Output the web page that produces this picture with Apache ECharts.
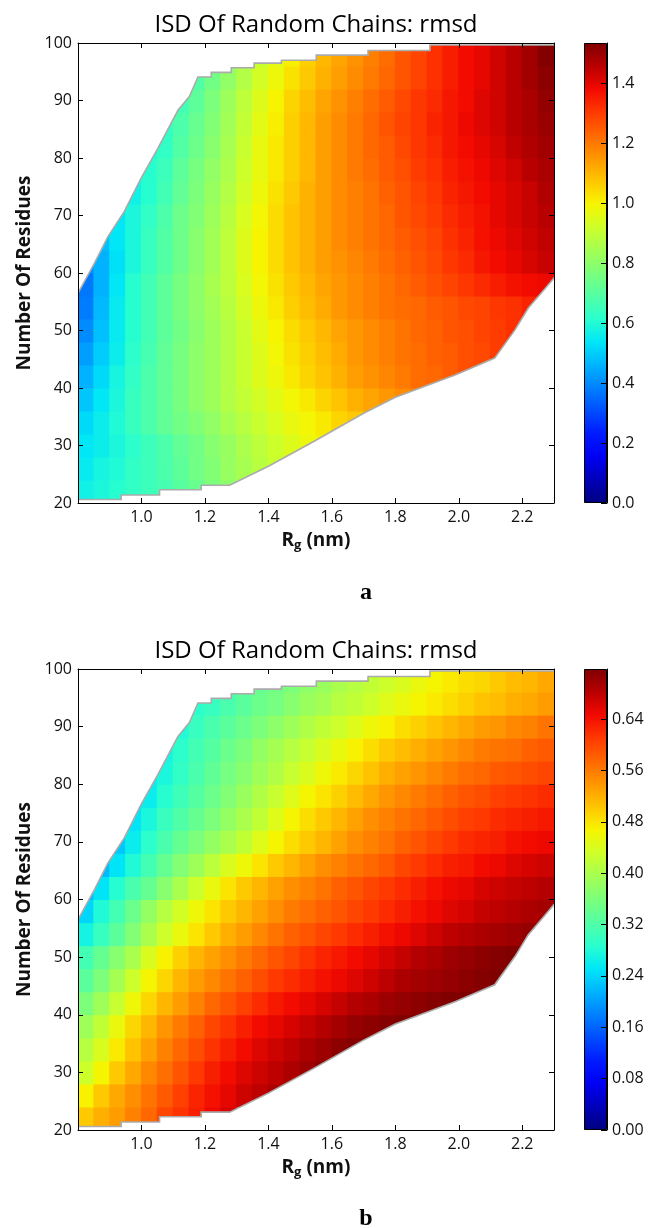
<!DOCTYPE html>
<html><head><meta charset="utf-8">
<script src="https://cdn.jsdelivr.net/npm/echarts@6/dist/echarts.min.js"></script>
<style>html,body{margin:0;padding:0;background:#fff}#c{width:652px;height:1228px}</style>
</head><body><div id="c"></div>
<script>
const TITLE = 'ISD Of Random Chains: rmsd';
const PANEL_LABELS = ['a', 'b'];
const Y_NAME = 'Number Of Residues';
// cell edges of the value grid
const RG_CELL_EDGES = [0.80,0.85,0.90,0.95,1.00,1.05,1.10,1.15,1.20,1.25,1.30,1.35,1.40,1.45,1.50,1.55,1.60,1.65,1.70,1.75,1.80,1.85,1.90,1.95,2.00,2.05,2.10,2.15,2.20,2.25,2.30];
const N_CELL_EDGES = [20,24,28,32,36,40,44,48,52,56,60,64,68,72,76,80,84,88,92,96,100];
// first column with a value, for each row (bottom to top)
const ROW_FIRST_COL = [0,0,0,0,0,0,0,0,0,0,0,1,2,3,3,4,5,6,7,9];
const VMAX_A = 1.536;
const VMAX_B = 0.718;
const CB_TICK_A = 0.2;
const CB_TICK_B = 0.08;
// panel a, rows from N=20 up
const RMSD_A = [
[0.57,0.59,0.61,0.63,0.65,0.67,0.70,0.73,0.77,0.80],
[0.55,0.58,0.60,0.63,0.65,0.68,0.71,0.75,0.78,0.82,0.85,0.88,0.91],
[0.54,0.56,0.59,0.62,0.65,0.68,0.72,0.75,0.79,0.82,0.86,0.89,0.92,0.95,0.98,1.01],
[0.52,0.56,0.60,0.64,0.68,0.72,0.75,0.78,0.81,0.85,0.88,0.91,0.94,0.97,0.99,1.02,1.05,1.07,1.09],
[0.49,0.54,0.59,0.64,0.68,0.72,0.76,0.80,0.83,0.87,0.90,0.93,0.96,0.99,1.02,1.05,1.08,1.11,1.13,1.15,1.17,1.19],
[0.46,0.52,0.58,0.63,0.68,0.72,0.76,0.80,0.83,0.87,0.91,0.95,0.98,1.02,1.05,1.08,1.11,1.14,1.16,1.18,1.20,1.22,1.23,1.25,1.27,1.28],
[0.43,0.50,0.56,0.62,0.67,0.72,0.76,0.80,0.83,0.87,0.91,0.95,0.99,1.03,1.06,1.09,1.12,1.15,1.17,1.19,1.21,1.22,1.24,1.25,1.27,1.28,1.30,1.31],
[0.40,0.48,0.55,0.61,0.66,0.71,0.75,0.79,0.83,0.87,0.91,0.96,1.00,1.04,1.07,1.10,1.13,1.15,1.17,1.19,1.21,1.23,1.24,1.26,1.27,1.29,1.30,1.32,1.33],
[0.38,0.47,0.55,0.61,0.66,0.71,0.76,0.80,0.84,0.88,0.93,0.98,1.02,1.06,1.09,1.12,1.15,1.17,1.19,1.21,1.22,1.23,1.25,1.26,1.28,1.29,1.31,1.32,1.34,1.35],
[0.37,0.46,0.54,0.61,0.66,0.71,0.76,0.80,0.85,0.89,0.94,0.99,1.03,1.07,1.10,1.13,1.15,1.17,1.19,1.21,1.23,1.25,1.27,1.29,1.31,1.33,1.35,1.37,1.38,1.39],
[0.40,0.46,0.53,0.59,0.64,0.69,0.74,0.79,0.84,0.89,0.95,1.00,1.04,1.08,1.11,1.14,1.16,1.18,1.20,1.22,1.24,1.26,1.28,1.31,1.33,1.36,1.38,1.40,1.42,1.44],
[0.48,0.54,0.59,0.64,0.69,0.74,0.79,0.84,0.89,0.95,1.00,1.04,1.08,1.11,1.14,1.17,1.19,1.21,1.23,1.25,1.27,1.29,1.32,1.34,1.37,1.39,1.41,1.43,1.45],
[0.54,0.59,0.63,0.68,0.74,0.78,0.83,0.88,0.94,0.99,1.04,1.08,1.11,1.14,1.17,1.19,1.21,1.23,1.26,1.28,1.30,1.33,1.35,1.37,1.40,1.42,1.44,1.46],
[0.57,0.61,0.66,0.72,0.77,0.82,0.87,0.93,0.98,1.03,1.07,1.11,1.14,1.17,1.19,1.21,1.24,1.26,1.29,1.31,1.34,1.36,1.38,1.40,1.42,1.44,1.47],
[0.59,0.61,0.65,0.71,0.76,0.81,0.86,0.92,0.97,1.02,1.06,1.10,1.14,1.17,1.20,1.22,1.25,1.27,1.30,1.32,1.35,1.37,1.39,1.41,1.43,1.46,1.48],
[0.60,0.63,0.69,0.74,0.79,0.85,0.91,0.97,1.02,1.06,1.10,1.14,1.17,1.20,1.23,1.25,1.28,1.31,1.33,1.36,1.38,1.40,1.42,1.45,1.47,1.49],
[0.63,0.68,0.73,0.78,0.84,0.90,0.96,1.01,1.06,1.10,1.14,1.17,1.20,1.23,1.26,1.29,1.31,1.34,1.36,1.39,1.41,1.43,1.46,1.48,1.50],
[0.66,0.71,0.77,0.83,0.89,0.95,1.00,1.05,1.09,1.13,1.16,1.19,1.22,1.25,1.28,1.31,1.33,1.36,1.38,1.41,1.43,1.46,1.48,1.51],
[0.69,0.75,0.81,0.87,0.93,0.98,1.03,1.07,1.11,1.14,1.17,1.20,1.23,1.26,1.29,1.32,1.35,1.38,1.40,1.43,1.46,1.49,1.52],
[0.80,0.85,0.91,0.96,1.01,1.06,1.10,1.13,1.16,1.19,1.22,1.26,1.29,1.32,1.35,1.38,1.40,1.43,1.46,1.49,1.53]
];
// panel b, rows from N=20 up
const RMSD_B = [
[0.50,0.52,0.535,0.555,0.575,0.60,0.615,0.63,0.65,0.665],
[0.47,0.50,0.525,0.545,0.565,0.585,0.605,0.625,0.64,0.655,0.67,0.68,0.69],
[0.43,0.465,0.50,0.525,0.55,0.57,0.59,0.61,0.63,0.645,0.66,0.67,0.68,0.69,0.70,0.71],
[0.41,0.44,0.475,0.505,0.53,0.555,0.575,0.595,0.615,0.63,0.645,0.66,0.67,0.68,0.69,0.70,0.71,0.715,0.718],
[0.39,0.42,0.455,0.49,0.515,0.54,0.56,0.58,0.60,0.615,0.63,0.645,0.655,0.665,0.675,0.685,0.695,0.705,0.71,0.715,0.718,0.718],
[0.36,0.39,0.425,0.46,0.49,0.515,0.535,0.555,0.575,0.59,0.605,0.62,0.635,0.645,0.655,0.665,0.675,0.685,0.69,0.70,0.705,0.71,0.715,0.718,0.718,0.718],
[0.33,0.36,0.395,0.43,0.465,0.49,0.515,0.535,0.55,0.565,0.58,0.595,0.61,0.62,0.63,0.64,0.65,0.66,0.67,0.68,0.69,0.695,0.70,0.705,0.71,0.715,0.718,0.718],
[0.31,0.34,0.37,0.40,0.44,0.47,0.495,0.515,0.53,0.545,0.56,0.575,0.59,0.60,0.615,0.625,0.635,0.645,0.655,0.665,0.675,0.685,0.69,0.70,0.705,0.71,0.715,0.718,0.718],
[0.27,0.30,0.33,0.365,0.40,0.43,0.455,0.48,0.50,0.52,0.535,0.55,0.565,0.58,0.59,0.60,0.61,0.62,0.63,0.64,0.65,0.66,0.67,0.68,0.685,0.69,0.695,0.70,0.705,0.705],
[0.24,0.28,0.31,0.345,0.38,0.41,0.435,0.46,0.48,0.50,0.515,0.53,0.545,0.56,0.57,0.58,0.59,0.60,0.61,0.62,0.63,0.64,0.65,0.66,0.665,0.675,0.68,0.685,0.69,0.695],
[0.22,0.25,0.285,0.315,0.34,0.37,0.40,0.43,0.455,0.48,0.50,0.515,0.53,0.545,0.555,0.565,0.58,0.59,0.60,0.61,0.62,0.63,0.64,0.65,0.655,0.665,0.67,0.675,0.68,0.685],
[0.22,0.25,0.28,0.31,0.34,0.365,0.39,0.415,0.44,0.46,0.48,0.50,0.515,0.53,0.545,0.555,0.565,0.575,0.585,0.60,0.61,0.62,0.63,0.635,0.645,0.65,0.66,0.665,0.67],
[0.23,0.26,0.29,0.315,0.34,0.36,0.38,0.40,0.42,0.445,0.465,0.485,0.50,0.515,0.53,0.545,0.555,0.565,0.58,0.59,0.60,0.61,0.62,0.625,0.63,0.64,0.645,0.65],
[0.25,0.275,0.30,0.32,0.34,0.36,0.38,0.40,0.42,0.445,0.465,0.485,0.50,0.515,0.53,0.545,0.555,0.565,0.575,0.585,0.595,0.605,0.61,0.62,0.625,0.63,0.635],
[0.24,0.26,0.285,0.305,0.325,0.345,0.365,0.385,0.405,0.425,0.445,0.465,0.48,0.495,0.51,0.525,0.54,0.55,0.56,0.57,0.58,0.59,0.595,0.605,0.61,0.615,0.62],
[0.26,0.275,0.295,0.315,0.335,0.355,0.37,0.39,0.405,0.425,0.44,0.46,0.475,0.49,0.505,0.52,0.53,0.54,0.55,0.56,0.57,0.575,0.585,0.59,0.595,0.60],
[0.27,0.29,0.31,0.325,0.345,0.36,0.38,0.395,0.41,0.425,0.44,0.455,0.47,0.485,0.50,0.51,0.52,0.53,0.54,0.55,0.56,0.565,0.57,0.58,0.585],
[0.28,0.30,0.315,0.33,0.345,0.36,0.375,0.39,0.405,0.42,0.43,0.445,0.46,0.47,0.485,0.495,0.505,0.515,0.525,0.535,0.54,0.55,0.555,0.565],
[0.29,0.30,0.315,0.33,0.345,0.355,0.37,0.385,0.395,0.41,0.42,0.43,0.445,0.455,0.465,0.475,0.485,0.495,0.505,0.51,0.52,0.525,0.535],
[0.32,0.33,0.34,0.35,0.36,0.375,0.385,0.40,0.41,0.42,0.43,0.44,0.455,0.465,0.475,0.485,0.49,0.50,0.51,0.515,0.525]
];
// outline of the sampled region (Rg nm, residues)
const UPPER_EDGE_RG = [0.80,0.852,0.894,0.946,0.999,1.052,1.115,1.151,1.178,1.220,1.220,1.283,1.283,1.355,1.355,1.441,1.441,1.551,1.551,1.714,1.714,1.909,1.909,2.31];
const UPPER_EDGE_N  = [56.5,61.7,66.3,70.7,76.5,81.7,88.3,90.7,94.1,94.1,94.9,94.9,95.7,95.7,96.5,96.5,97.0,97.0,97.9,97.9,98.7,98.7,99.65,99.65];
const LOWER_EDGE_RG = [0.80,0.936,0.936,1.057,1.057,1.188,1.188,1.278,1.40,1.54,1.70,1.80,1.99,2.113,2.177,2.219,2.272,2.31];
const LOWER_EDGE_N  = [20.6,20.6,21.4,21.4,22.3,22.3,23.1,23.1,26.4,30.6,35.6,38.4,42.3,45.2,50.1,53.9,57.3,59.8];
// jet colour map
const JET = ['#000080','#0000b9','#0000f3','#001aff','#004dff','#0080ff','#00b3ff','#00e6f7','#29ffce','#52ffa4','#7bff7b','#a4ff52','#ceff29','#f7f500','#ffc600','#ff9700','#ff6800','#ff3900','#f30900','#b90000','#800000'];

const FONT = '"Open Sans", "Noto Sans", sans-serif';
const TXT = '#111';

function cellData(rows) {
  const out = [];
  rows.forEach((row, r) => {
    row.forEach((v, j) => {
      const c = ROW_FIRST_COL[r] + j;
      out.push([RG_CELL_EDGES[c], N_CELL_EDGES[r], v, RG_CELL_EDGES[c + 1], N_CELL_EDGES[r + 1]]);
    });
  });
  return out;
}
function renderCell(params, api) {
  const p0 = api.coord([api.value(0), api.value(1)]);
  const p1 = api.coord([api.value(3), api.value(4)]);
  return {type: 'rect', shape: {x: p0[0] - 0.5, y: p1[1] - 0.5, width: p1[0] - p0[0] + 1, height: p0[1] - p1[1] + 1},
          style: {fill: api.visual('color')}};
}
function maskRenderer(rgs, ns, upper) {
  return function (params, api) {
    const pts = rgs.map((x, i) => api.coord([x, ns[i]]));
    const last = ns.length - 1;
    const yOut = upper ? 101 : 19;
    const poly = [api.coord([0.78, yOut]), api.coord([0.78, ns[0]])].concat(pts)
      .concat([api.coord([2.33, ns[last]]), api.coord([2.33, yOut])]);
    return {type: 'group', children: [
      {type: 'polygon', shape: {points: poly}, style: {fill: '#ffffff'}},
      {type: 'polyline', shape: {points: pts}, style: {stroke: '#ababab', lineWidth: 1.6, fill: null}}
    ]};
  };
}
function jetGradient() {
  return {type: 'linear', x: 0, y: 1, x2: 0, y2: 0,
    colorStops: JET.map((c, i) => ({offset: i / (JET.length - 1), color: c}))};
}

const PLOT_TOPS = [43, 669];
const PLOT_H = [460, 461];
const grids = [], xAxes = [], yAxes = [], series = [], visualMaps = [];
[0, 1].forEach(p => {
  const g0 = grids.length;
  grids.push({left: 78, top: PLOT_TOPS[p], width: 476, height: PLOT_H[p]});
  grids.push({left: 584, top: PLOT_TOPS[p], width: 23, height: PLOT_H[p]});
  const ax = {type: 'value', min: 0.8, max: 2.3, interval: 0.2, z: 10,
    axisLine: {show: true, lineStyle: {color: '#000', width: 1}},
    axisTick: {show: true, inside: true, length: 5, lineStyle: {color: '#000'}},
    splitLine: {show: false}};
  const xi = xAxes.length;
  xAxes.push(Object.assign({}, ax, {gridIndex: g0, position: 'bottom',
    axisLabel: {show: true, margin: 6, fontSize: 16, fontFamily: FONT, color: TXT,
      showMinLabel: false, showMaxLabel: false, formatter: v => v.toFixed(1)},
    name: '{r|R}{s|g}{r| (nm)}', nameLocation: 'middle', nameGap: 27,
    nameTextStyle: {rich: {
      r: {fontSize: 19, fontWeight: 'bold', fontFamily: FONT, color: TXT, lineHeight: 22},
      s: {fontSize: 13, fontWeight: 'bold', fontFamily: FONT, color: TXT, lineHeight: 12, verticalAlign: 'bottom'}}}}));
  xAxes.push(Object.assign({}, ax, {gridIndex: g0, position: 'top', axisLabel: {show: false}}));
  xAxes.push({type: 'category', gridIndex: g0 + 1, data: ['cb'], show: false});
  const ay = {type: 'value', min: 20, max: 100, interval: 10, z: 10,
    axisLine: {show: true, lineStyle: {color: '#000', width: 1}},
    axisTick: {show: true, inside: true, length: 5, lineStyle: {color: '#000'}},
    splitLine: {show: false}};
  const yi = yAxes.length;
  yAxes.push(Object.assign({}, ay, {gridIndex: g0, position: 'left',
    axisLabel: {show: true, margin: 6, fontSize: 16, fontFamily: FONT, color: TXT},
    name: Y_NAME, nameLocation: 'middle', nameGap: 44,
    nameTextStyle: {fontSize: 19, fontWeight: 'bold', fontFamily: FONT, color: TXT}}));
  yAxes.push(Object.assign({}, ay, {gridIndex: g0, position: 'right', axisLabel: {show: false}}));
  const vmax = p === 0 ? VMAX_A : VMAX_B;
  const step = p === 0 ? CB_TICK_A : CB_TICK_B;
  const dec = p === 0 ? 1 : 2;
  yAxes.push({type: 'value', gridIndex: g0 + 1, position: 'right', min: 0, max: vmax, interval: step, z: 10,
    axisLine: {show: true, lineStyle: {color: '#000', width: 1}},
    axisTick: {show: true, inside: true, length: 6, lineStyle: {color: '#000'}},
    axisLabel: {show: true, margin: 5, fontSize: 16, fontFamily: FONT, color: TXT,
      showMaxLabel: false, formatter: v => v.toFixed(dec)},
    splitLine: {show: false}});
  const si = series.length;
  series.push({type: 'custom', xAxisIndex: xi, yAxisIndex: yi, renderItem: renderCell,
    data: cellData(p === 0 ? RMSD_A : RMSD_B), clip: true, z: 2, silent: true,
    encode: {x: 0, y: 1}});
  series.push({type: 'custom', xAxisIndex: xi, yAxisIndex: yi, clip: true, z: 3, silent: true,
    renderItem: maskRenderer(UPPER_EDGE_RG, UPPER_EDGE_N, true), data: [[0.8, 100]]});
  series.push({type: 'custom', xAxisIndex: xi, yAxisIndex: yi, clip: true, z: 3, silent: true,
    renderItem: maskRenderer(LOWER_EDGE_RG, LOWER_EDGE_N, false), data: [[0.8, 20]]});
  series.push({type: 'bar', xAxisIndex: xi + 2, yAxisIndex: yi + 2, data: [vmax], barWidth: '100%',
    silent: true, itemStyle: {color: jetGradient(), borderColor: '#000', borderWidth: 1}});
  visualMaps.push({type: 'continuous', show: false, seriesIndex: si, dimension: 2,
    min: 0, max: vmax, inRange: {color: JET}});
});

const graphics = [];
[[316, 13], [316, 639]].forEach(pos => {
  graphics.push({type: 'text', x: pos[0], y: pos[1], style: {text: TITLE, fill: '#000',
    font: '24px ' + FONT, align: 'center', verticalAlign: 'top', textAlign: 'center', textVerticalAlign: 'top'}});
});
[[366, 605], [366, 1231]].forEach((pos, i) => {
  graphics.push({type: 'text', x: pos[0], y: pos[1], style: {text: PANEL_LABELS[i], fill: '#000',
    font: 'bold 24px "Liberation Serif", "DejaVu Serif", serif', align: 'center', verticalAlign: 'bottom',
    textAlign: 'center', textVerticalAlign: 'bottom'}});
});

const chart = echarts.init(document.getElementById('c'), null, {renderer: 'canvas'});
chart.setOption({
  animation: false,
  backgroundColor: '#ffffff',
  grid: grids, xAxis: xAxes, yAxis: yAxes, series: series, visualMap: visualMaps,
  graphic: graphics
});
</script></body></html>
